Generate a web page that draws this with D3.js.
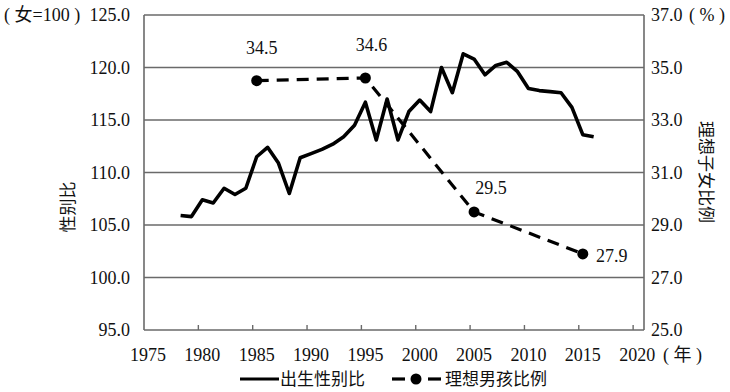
<!DOCTYPE html>
<html>
<head>
<meta charset="utf-8">
<script src="https://cdn.jsdelivr.net/npm/d3@7"></script>
<style>
    body { margin: 0; background: #fff; }
</style>
</head>
<body>
<svg id="chart" width="730" height="392"></svg>
<script>
// birth sex ratio (girls = 100), by year
let birthYears = [1978, 1979, 1980, 1981, 1982, 1983, 1984, 1985, 1986, 1987, 1988, 1989,
    1990, 1991, 1992, 1993, 1994, 1995, 1996, 1997, 1998, 1999, 2000, 2001, 2002, 2003,
    2004, 2005, 2006, 2007, 2008, 2009, 2010, 2011, 2012, 2013, 2014, 2015, 2016];
let birthRatio = [105.9, 105.8, 107.4, 107.1, 108.5, 107.9, 108.5, 111.5, 112.4, 110.9, 108.0, 111.4,
    111.8, 112.2, 112.7, 113.4, 114.5, 116.7, 113.1, 117.0, 113.1, 115.8, 116.9, 115.8, 120.0, 117.6,
    121.3, 120.8, 119.3, 120.2, 120.5, 119.6, 118.0, 117.8, 117.7, 117.6, 116.2, 113.6, 113.4];

// share of respondents wanting a boy (%)
let idealYears = [1985, 1995, 2005, 2015];
let idealBoy = [34.5, 34.6, 29.5, 27.9];

let xTicks = [1975, 1980, 1985, 1990, 1995, 2000, 2005, 2010, 2015, 2020];
let leftTicks = [95, 100, 105, 110, 115, 120, 125];
let rightTicks = [25, 27, 29, 31, 33, 35, 37];

const serif = '"Liberation Serif", "Times New Roman", serif';
const cjk = '"Noto Sans CJK SC", "Noto Sans", sans-serif';
const mixed = '"Liberation Serif", "Noto Sans CJK SC", serif';

let svg = d3.select('#chart');
let plot = {left: 144, right: 644, top: 15, bottom: 330};
let markShift = 4;

let xScale = d3.scaleLinear().domain([1975, 2021]).range([plot.left, plot.right]);
let yLeft = d3.scaleLinear().domain([95, 125]).range([plot.bottom, plot.top]);
let yRight = d3.scaleLinear().domain([25, 37]).range([plot.bottom, plot.top]);

// gridlines
svg.append('g')
    .selectAll('line')
    .data(leftTicks)
    .join('line')
    .attr('x1', plot.left)
    .attr('x2', plot.right)
    .attr('y1', d => yLeft(d))
    .attr('y2', d => yLeft(d))
    .attr('stroke', '#6a6a6a')
    .attr('stroke-width', 1.6);

// frame sides
svg.append('g')
    .selectAll('line')
    .data([plot.left, plot.right])
    .join('line')
    .attr('x1', d => d)
    .attr('x2', d => d)
    .attr('y1', plot.top)
    .attr('y2', plot.bottom)
    .attr('stroke', '#6a6a6a')
    .attr('stroke-width', 1.6);

// x ticks (pointing up)
svg.append('g')
    .selectAll('line')
    .data(xTicks.slice(1))
    .join('line')
    .attr('x1', d => xScale(d))
    .attr('x2', d => xScale(d))
    .attr('y1', plot.bottom)
    .attr('y2', plot.bottom - 5)
    .attr('stroke', '#6a6a6a')
    .attr('stroke-width', 1.4);

function numText(sel){
    sel.attr('font-family', serif)
        .attr('font-size', 18)
        .attr('fill', '#111');
}
function cjkText(sel){
    sel.attr('font-family', cjk)
        .attr('font-size', 17)
        .attr('fill', '#111');
}

svg.append('g')
    .selectAll('text')
    .data(xTicks)
    .join('text')
    .call(numText)
    .attr('x', d => xScale(d) + 4)
    .attr('y', 361)
    .attr('text-anchor', 'middle')
    .text(d => d);

svg.append('g')
    .selectAll('text')
    .data(leftTicks)
    .join('text')
    .call(numText)
    .attr('x', 130)
    .attr('y', d => yLeft(d) + 6)
    .attr('text-anchor', 'end')
    .text(d => d.toFixed(1));

svg.append('g')
    .selectAll('text')
    .data(rightTicks)
    .join('text')
    .call(numText)
    .attr('x', 651)
    .attr('y', d => yRight(d) + 6)
    .text(d => d.toFixed(1));

// unit labels
svg.append('text').call(numText).attr('font-family', mixed)
    .attr('x', 4).attr('y', 21).text('( 女=100 )');
svg.append('text').call(numText).attr('font-family', mixed)
    .attr('x', 689).attr('y', 21).text('( % )');
svg.append('text').call(numText).attr('font-family', mixed)
    .attr('x', 663).attr('y', 361).text('( 年 )');

svg.append('text')
    .call(cjkText)
    .attr('transform', `translate(74, 207) rotate(-90)`)
    .attr('text-anchor', 'middle')
    .text('性别比');

svg.append('text')
    .call(cjkText)
    .attr('transform', `translate(700, 172) rotate(90)`)
    .attr('text-anchor', 'middle')
    .text('理想子女比例');

// sex ratio line
let birthData = birthYears.map((d, i) => [d, birthRatio[i]]);
svg.append('path')
    .datum(birthData)
    .attr('fill', 'none')
    .attr('stroke', '#000')
    .attr('stroke-width', 3.6)
    .attr('stroke-linejoin', 'round')
    .attr('d', d3.line().x(d => xScale(d[0]) + markShift).y(d => yLeft(d[1])));

// ideal boy share, dashed with dots
let idealData = idealYears.map((d, i) => [d, idealBoy[i]]);
svg.append('path')
    .datum(idealData)
    .attr('fill', 'none')
    .attr('stroke', '#000')
    .attr('stroke-width', 3.2)
    .attr('stroke-dasharray', '12,8')
    .attr('d', d3.line().x(d => xScale(d[0]) + markShift).y(d => yRight(d[1])));

svg.append('g')
    .selectAll('circle')
    .data(idealData)
    .join('circle')
    .attr('cx', d => xScale(d[0]) + markShift)
    .attr('cy', d => yRight(d[1]))
    .attr('r', 5.5)
    .attr('fill', '#000');

let labelOffsets = [[5, -27], [6, -27], [17, -18], [29, 8]];
svg.append('g')
    .selectAll('text')
    .data(idealData)
    .join('text')
    .call(numText)
    .attr('x', (d, i) => xScale(d[0]) + markShift + labelOffsets[i][0])
    .attr('y', (d, i) => yRight(d[1]) + labelOffsets[i][1])
    .attr('text-anchor', 'middle')
    .text(d => d[1].toFixed(1));

// legend
let legend = svg.append('g').attr('transform', 'translate(0, 379)');
legend.append('line')
    .attr('x1', 240).attr('x2', 279)
    .attr('y1', 0).attr('y2', 0)
    .attr('stroke', '#000').attr('stroke-width', 3.2);
legend.append('text').call(cjkText).attr('x', 280).attr('y', 6).text('出生性别比');
legend.selectAll('.dash')
    .data([[392, 405], [428, 441]])
    .join('line')
    .classed('dash', true)
    .attr('x1', d => d[0]).attr('x2', d => d[1])
    .attr('y1', 0).attr('y2', 0)
    .attr('stroke', '#000').attr('stroke-width', 3.2);
legend.append('circle').attr('cx', 416).attr('cy', 0).attr('r', 5.5).attr('fill', '#000');
legend.append('text').call(cjkText).attr('x', 445).attr('y', 6).text('理想男孩比例');
</script>
</body>
</html>
